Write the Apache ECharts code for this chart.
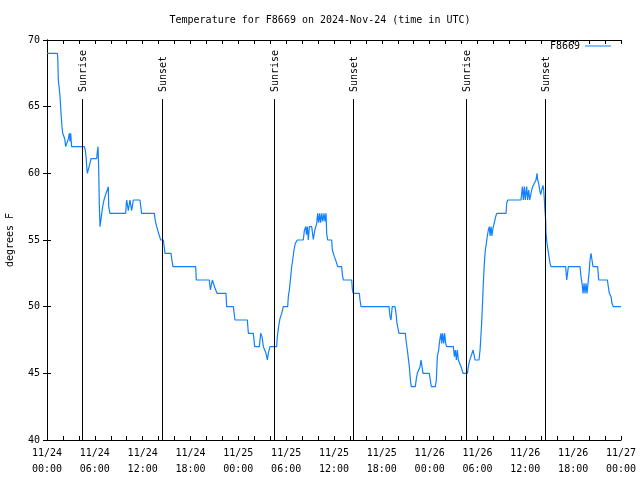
<!DOCTYPE html>
<html>
<head>
<meta charset="utf-8">
<script src="https://cdn.jsdelivr.net/npm/echarts@6/dist/echarts.min.js"></script>
<style>html,body{margin:0;padding:0;background:#fff}#c{width:640px;height:480px}</style>
</head>
<body>
<div id="c"></div>
<script>
// hours since 2024-11-24 00:00 UTC
const hours = [0.0,1.3,1.36,1.42,1.63,1.76,1.88,1.97,2.22,2.34,2.55,2.68,2.8,2.88,2.97,3.05,3.09,4.68,4.8,4.9,4.98,5.06,5.31,5.39,5.52,6.23,6.31,6.4,6.48,6.56,6.65,6.9,6.98,7.15,7.4,7.57,7.69,7.74,7.9,9.87,9.95,10.0,10.1,10.2,10.41,10.5,10.62,10.83,11.66,11.87,13.46,13.6,13.76,13.95,14.13,14.26,14.6,14.72,14.8,15.55,15.64,15.8,18.65,18.73,20.36,20.49,20.6,20.74,20.95,21.07,21.33,22.45,22.54,23.37,23.58,25.13,25.26,25.88,26.05,26.64,26.8,26.97,27.14,27.47,27.64,27.76,27.97,28.81,28.89,29.05,29.22,29.44,29.64,30.19,30.27,30.4,30.57,30.69,30.82,30.98,31.15,31.4,32.15,32.28,32.45,32.55,32.66,32.78,32.91,33.2,33.4,33.6,33.83,33.95,34.08,34.2,34.33,34.46,34.6,34.75,34.87,35.0,35.08,35.21,35.71,35.79,35.92,36.05,36.34,36.46,36.96,37.05,37.17,38.22,38.3,38.42,39.18,39.26,39.39,42.9,43.03,43.15,43.3,43.65,43.78,43.9,44.02,44.15,44.95,45.03,45.2,45.33,45.45,45.58,45.7,46.2,46.33,46.45,46.62,46.79,46.91,47.04,47.16,47.96,48.08,48.21,48.71,48.84,48.96,49.13,49.21,49.34,49.42,49.51,49.63,49.76,49.88,50.01,50.13,50.97,51.1,51.22,51.35,51.47,51.6,51.81,51.93,52.06,52.18,52.73,52.85,52.98,53.14,53.31,53.44,53.56,53.69,54.19,54.32,54.4,54.52,54.65,54.73,54.86,54.98,55.11,55.23,55.36,55.49,55.57,55.7,55.82,55.9,55.99,56.11,56.28,56.41,57.58,57.66,57.79,59.46,59.63,59.75,59.88,60.0,60.17,60.29,60.42,60.55,60.67,60.8,60.92,61.13,61.34,61.47,61.55,61.67,61.8,61.92,62.05,62.22,62.3,62.39,62.43,62.55,62.59,62.72,62.84,62.97,63.1,63.22,65.06,65.19,65.4,66.86,66.98,67.11,67.24,67.36,67.49,67.61,67.74,67.86,67.99,68.11,68.24,68.36,68.49,69.07,69.2,70.29,70.41,70.54,70.75,70.87,71.04,72];
const temps = [69,69,68.5,67,65.8,64.5,63.5,63,62.6,62,62,62.6,63,62.4,63,62.3,62,62,61.75,61.25,60.5,60,60,60.75,61.1,61.1,61.6,62,60.5,57.7,56,56,57.5,58,58.5,58.75,59,57.5,57,57,57.75,58,58,57.2,58,58,57.2,58,58,57,57,56.4,56,55.6,55.25,55,55,54.4,54,54,53.6,53,53,52,52,51.25,51.25,52,52,51.4,51,51,50,50,49,49,48,48,47,47,48,47.75,47,46.5,46,46.5,47,47,47.75,48.5,49.1,49.5,50,50,50.75,51.25,52.25,53,53.5,54.25,54.75,55,55,55.7,56,55.4,56,55,56,56,55.05,55.75,56.25,57,56.3,57,56.3,57,56.4,57,56.4,57,55.5,55,55,54.25,54,53.75,53.25,53,53,52.4,52,52,51.3,51,51,50.5,50,50,49.25,49,50,50,49.5,48.75,48.4,48,48,47.5,46.75,46.1,45.5,44.5,44,44,44.6,45,45.1,45.5,46,45.5,45,45,44.5,44,44,44.5,46.25,46.75,47.25,47.75,48,47.25,48,47.25,48,47.25,47,47,46.25,46.75,46,46.75,46,46,45.5,45.25,45,45,45.5,45.9,46,46.5,46.75,46.4,46,46,46.75,47.5,48.75,50.5,51.75,53.25,54.25,54.75,55.3,55.75,56,55.3,56,55.3,55.75,56,56.3,56.75,57,57,57.75,58,58,59,58,59,58,59,58,58.75,58,58,58.75,59,59.25,59.5,60,59.5,59.25,58.75,58.4,58.75,59.1,58.75,58,57.5,56.5,55.5,54.75,54.25,53.75,53.25,53,53,52,53,53,52.25,51.75,51,51.75,51,51.75,51,51.75,52.5,53.5,54,53.5,53,53,52,52,51.5,51,50.75,50.25,50,50];
const tickDates = ['11/24','11/24','11/24','11/24','11/25','11/25','11/25','11/25','11/26','11/26','11/26','11/26','11/27'];
const tickTimes = ['00:00','06:00','12:00','18:00','00:00','06:00','12:00','18:00','00:00','06:00','12:00','18:00','00:00'];
const sunEvents = [4.43, 14.47, 28.52, 38.43, 52.6, 62.51];
const sunNames = ['Sunrise','Sunset','Sunrise','Sunset','Sunrise','Sunset'];
const sunLineTop = 65.57;

const FONT = 'DejaVu Sans Mono';
const chart = echarts.init(document.getElementById('c'));
const axCommon = {
  min: 0, max: 72, interval: 6,
  axisLine: {show: true, lineStyle: {color: '#000', width: 1}},
  axisTick: {show: true, inside: true, length: 4, lineStyle: {color: '#000'}},
  minorTick: {show: true, splitNumber: 3, length: 4, lineStyle: {color: '#000'}},
  splitLine: {show: false}
};
const yCommon = {
  min: 40, max: 70, interval: 5,
  axisLine: {show: true, lineStyle: {color: '#000', width: 1}},
  axisTick: {show: true, inside: true, length: 4, lineStyle: {color: '#000'}},
  splitLine: {show: false}
};
chart.setOption({
  animation: false,
  backgroundColor: '#fff',
  title: {
    text: 'Temperature for F8669 on 2024-Nov-24 (time in UTC)',
    left: 'center', top: 15, padding: 0,
    textStyle: {fontFamily: FONT, fontSize: 10, fontWeight: 'normal', color: '#000'}
  },
  legend: {
    data: ['F8669'], right: 29, top: 41, padding: 0, align: 'right',
    icon: 'rect', itemWidth: 26, itemHeight: 1,
    textStyle: {fontFamily: FONT, fontSize: 10, color: '#000'}
  },
  grid: {left: 47, right: 19, top: 40, bottom: 40, containLabel: false, outerBoundsMode: 'none'},
  xAxis: [
    Object.assign({}, axCommon, {
      type: 'value', position: 'bottom',
      axisLabel: {
        margin: 5, lineHeight: 16, fontFamily: FONT, fontSize: 10, color: '#000',
        formatter: function (v) { const i = Math.round(v / 6); return tickDates[i] + '\n' + tickTimes[i]; }
      }
    }),
    Object.assign({}, axCommon, {type: 'value', position: 'top', axisLabel: {show: false}})
  ],
  yAxis: [
    Object.assign({}, yCommon, {
      type: 'value', position: 'left',
      name: 'degrees F', nameLocation: 'middle', nameGap: 32,
      nameTextStyle: {fontFamily: FONT, fontSize: 10, color: '#000'},
      axisLabel: {margin: 7, fontFamily: FONT, fontSize: 10, color: '#000'}
    }),
    Object.assign({}, yCommon, {type: 'value', position: 'right', axisLabel: {show: false}})
  ],
  series: [{
    name: 'F8669', type: 'line', xAxisIndex: 0, yAxisIndex: 0,
    data: hours.map((h, i) => [h, temps[i]]),
    showSymbol: false, symbol: 'none',
    lineStyle: {color: '#1080ff', width: 1.2},
    itemStyle: {color: '#1080ff'},
    markLine: {
      silent: true, symbol: 'none', animation: false,
      label: {show: false},
      lineStyle: {color: '#000', width: 1, type: 'solid'},
      data: sunEvents.map(t => [{coord: [t, 40]}, {coord: [t, sunLineTop]}])
    }
  }]
});

const texts = sunEvents.map((t, i) => {
  const p = chart.convertToPixel({xAxisIndex: 0, yAxisIndex: 0}, [t, sunLineTop]);
  return {
    type: 'text', x: p[0] + 1, y: p[1] - 7, rotation: Math.PI / 2,
    style: {text: sunNames[i], fontFamily: FONT, fontSize: 10, fill: '#000', align: 'left', verticalAlign: 'middle'}
  };
});
chart.setOption({graphic: texts});
</script>
</body>
</html>
